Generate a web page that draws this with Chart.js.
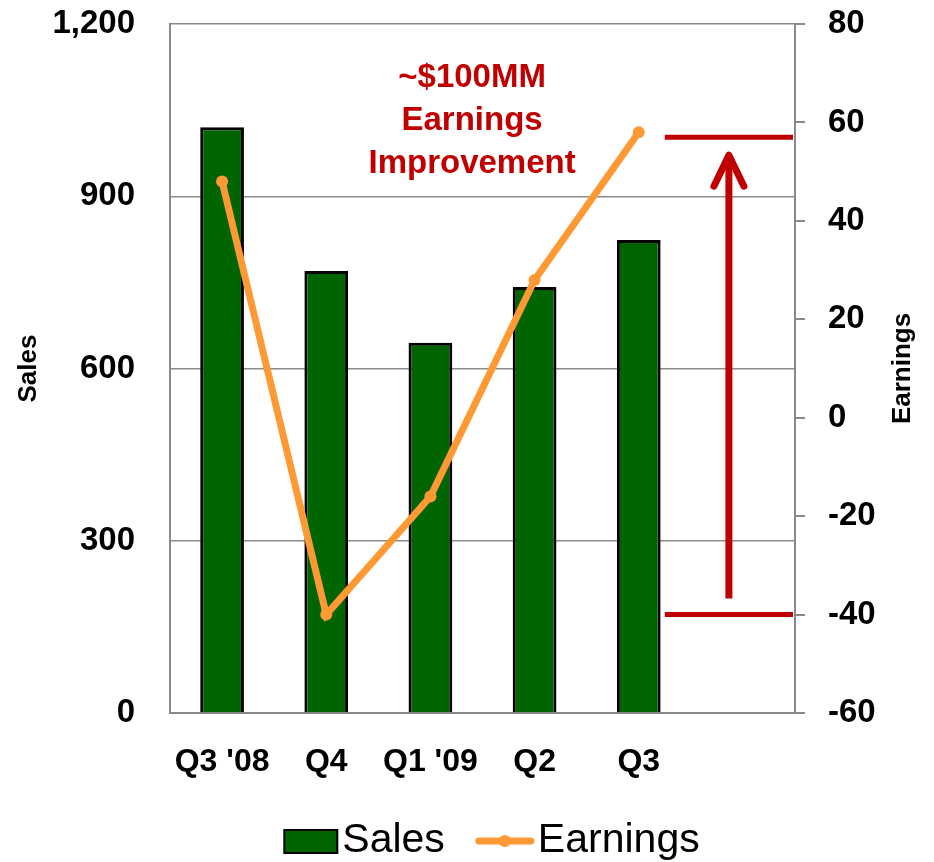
<!DOCTYPE html>
<html>
<head>
<meta charset="utf-8">
<script src="https://cdn.jsdelivr.net/npm/chart.js@4.4.1/dist/chart.umd.min.js"></script>
<style>
    html, body { margin: 0; padding: 0; background: #ffffff; }
    #grafico { width: 934px; height: 862px; }
</style>
</head>
<body>
<div id="grafico"><canvas id="chartVendas"></canvas></div>
<script>
// dados
const trimestres = ["Q3 '08", 'Q4', "Q1 '09", 'Q2', 'Q3', ''];
const vendas = [1020, 770, 645, 742, 824, null];
const lucros = [48, -40, -16, 28, 58, null];
const ticksVendas = [0, 300, 600, 900, 1200];
const ticksLucros = [-60, -40, -20, 0, 20, 40, 60, 80];
const melhoriaTopo = 57;
const melhoriaBase = -40;
const textoMelhoria = ['~$100MM', 'Earnings', 'Improvement'];

const VERDE = '#006400';
const LARANJA = '#ff9933';
const VERMELHO = '#c00000';
const CINZA = '#8a8a8a';
const FONTE = '"Liberation Sans", Arial, sans-serif';

// desenha anotacao, seta e titulos dos eixos
const pluginAnotacao = {
    id: 'anotacao',
    afterDatasetsDraw(chart) {
        const ctx = chart.ctx;
        const x = chart.scales.x;
        const yR = chart.scales.yLucro;
        const area = chart.chartArea;
        const passo = x.getPixelForValue(1) - x.getPixelForValue(0);

        // linhas horizontais
        const x0 = x.getPixelForValue(4) + passo * 0.25;
        const x1 = area.right - 2;
        const yTopo = yR.getPixelForValue(melhoriaTopo);
        const yBase = yR.getPixelForValue(melhoriaBase);
        ctx.save();
        ctx.strokeStyle = VERMELHO;
        ctx.lineWidth = 5;
        ctx.beginPath();
        ctx.moveTo(x0, yTopo); ctx.lineTo(x1, yTopo);
        ctx.moveTo(x0, yBase); ctx.lineTo(x1, yBase);
        ctx.stroke();

        // seta
        const xs = (x0 + x1) / 2;
        const ponta = yTopo + 18;
        ctx.lineWidth = 7;
        ctx.beginPath();
        ctx.moveTo(xs, yBase - 16);
        ctx.lineTo(xs, ponta + 4);
        ctx.stroke();
        ctx.lineCap = 'round';
        ctx.lineJoin = 'round';
        ctx.beginPath();
        ctx.moveTo(xs - 15, ponta + 31);
        ctx.lineTo(xs, ponta);
        ctx.lineTo(xs + 15, ponta + 31);
        ctx.stroke();

        // texto
        const cx = x.getPixelForValue(2) + passo * 0.4;
        ctx.fillStyle = VERMELHO;
        ctx.font = 'bold 33px ' + FONTE;
        ctx.textAlign = 'center';
        ctx.textBaseline = 'alphabetic';
        textoMelhoria.forEach((linha, i) => {
            ctx.fillText(linha, cx, area.top + 63 + i * 43);
        });
        ctx.restore();
    },
    afterDraw(chart) {
        const ctx = chart.ctx;
        const area = chart.chartArea;
        const meio = (area.top + area.bottom) / 2;

        ctx.save();
        ctx.fillStyle = '#000';
        ctx.font = 'bold 26px ' + FONTE;
        ctx.textAlign = 'center';
        ctx.textBaseline = 'middle';
        [[29, 'Sales'], [903, 'Earnings']].forEach(([px, txt]) => {
            ctx.save();
            ctx.translate(px, meio);
            ctx.rotate(-Math.PI / 2);
            ctx.fillText(txt, 0, 0);
            ctx.restore();
        });

        // legenda
        const ds = chart.data.datasets;
        ctx.font = '41px ' + FONTE;
        ctx.textBaseline = 'middle';
        ctx.textAlign = 'left';
        const wVendas = ctx.measureText(ds[1].label).width;
        const wLucros = ctx.measureText(ds[0].label).width;
        const total = 53 + 5 + wVendas + 31 + 58 + 4 + wLucros;
        let lx = 492 - total / 2;
        const ly = 841;

        ctx.fillStyle = ds[1].backgroundColor;
        ctx.strokeStyle = ds[1].borderColor;
        ctx.lineWidth = 2;
        ctx.fillRect(lx, ly - 11, 53, 23);
        ctx.strokeRect(lx, ly - 11, 53, 23);
        lx += 58;
        ctx.fillStyle = '#000';
        ctx.fillText(ds[1].label, lx, ly);
        lx += wVendas + 31;

        ctx.strokeStyle = ds[0].borderColor;
        ctx.lineWidth = 7;
        ctx.lineCap = 'round';
        ctx.beginPath();
        ctx.moveTo(lx + 3, ly); ctx.lineTo(lx + 55, ly);
        ctx.stroke();
        ctx.fillStyle = ds[0].borderColor;
        ctx.beginPath();
        ctx.arc(lx + 29, ly, 6, 0, Math.PI * 2);
        ctx.fill();
        lx += 62;
        ctx.fillStyle = '#000';
        ctx.fillText(ds[0].label, lx, ly);
        ctx.restore();
    }
};

function ajustarEixoY(largura) {
    return (escala) => {
        escala.width = largura;
        escala.paddingTop = 0;
        escala.paddingBottom = 0;
    };
}

new Chart(document.getElementById('chartVendas'), {
    data: {
        labels: trimestres,
        datasets: [{
            type: 'line',
            label: 'Earnings',
            data: lucros,
            yAxisID: 'yLucro',
            borderColor: LARANJA,
            backgroundColor: LARANJA,
            borderWidth: 7,
            pointRadius: 6,
            pointBorderWidth: 0,
            pointBackgroundColor: LARANJA,
            tension: 0,
            order: 0
        }, {
            type: 'bar',
            label: 'Sales',
            data: vendas,
            yAxisID: 'yVenda',
            backgroundColor: VERDE,
            borderColor: '#000000',
            borderWidth: 3,
            categoryPercentage: 1,
            barPercentage: 0.42,
            order: 1
        }]
    },
    plugins: [pluginAnotacao],
    options: {
        responsive: true,
        maintainAspectRatio: false,
        animation: false,
        layout: { padding: { top: 24, left: 0, right: 0, bottom: 80 } },
        plugins: {
            legend: { display: false },
            tooltip: { enabled: false }
        },
        scales: {
            x: {
                grid: { display: false },
                border: { display: true, color: CINZA, width: 2 },
                ticks: {
                    color: '#000',
                    padding: 22,
                    maxRotation: 0,
                    font: { family: FONTE, size: 32, weight: 'bold' }
                },
                afterFit: (escala) => { escala.height = 69; }
            },
            yVenda: {
                position: 'left',
                min: 0,
                max: 1200,
                afterBuildTicks: (escala) => { escala.ticks = ticksVendas.map(v => ({ value: v })); },
                grid: { color: CINZA, lineWidth: 1.5, drawTicks: false },
                border: { color: CINZA, width: 2 },
                ticks: {
                    color: '#000',
                    padding: 35,
                    font: { family: FONTE, size: 33, weight: 'bold' },
                    callback: (v) => v.toLocaleString('en-US')
                },
                afterFit: ajustarEixoY(170)
            },
            yLucro: {
                position: 'right',
                min: -60,
                max: 80,
                afterBuildTicks: (escala) => { escala.ticks = ticksLucros.map(v => ({ value: v })); },
                grid: { drawOnChartArea: false, color: CINZA, lineWidth: 2, tickLength: 10 },
                border: { color: CINZA, width: 2 },
                ticks: {
                    color: '#000',
                    padding: 23,
                    font: { family: FONTE, size: 33, weight: 'bold' }
                },
                afterFit: ajustarEixoY(139)
            }
        }
    }
});
</script>
</body>
</html>
